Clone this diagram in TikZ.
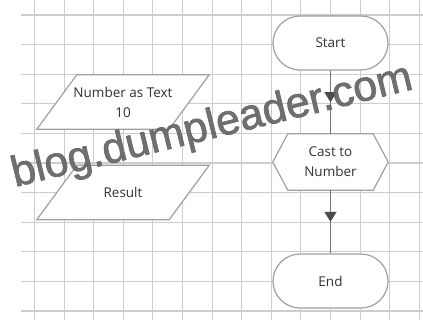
\documentclass[tikz,border=0pt]{standalone}
\usepackage{fontspec}
\setmainfont{Open Sans}
\newfontfamily\wmfont[BoldFont=Liberation Sans, BoldFeatures={FakeBold=1.6}]{Liberation Sans}
\usetikzlibrary{calc,arrows.meta,decorations.markings}
\definecolor{gridc}{RGB}{205,205,205}
\definecolor{shapec}{RGB}{160,160,160}
\definecolor{linec}{RGB}{115,115,115}
\definecolor{arrc}{RGB}{75,75,75}
\definecolor{txtc}{RGB}{50,50,50}
\definecolor{wmc}{RGB}{100,100,100}
\tikzset{
  gridline/.style={draw=gridc, line width=1.1pt},
  shapeline/.style={draw=shapec, line width=1.2pt, fill=white},
  label/.style={text=txtc, font=\fontsize{13.5}{20}\selectfont, align=center, inner sep=0pt},
  terminal/.style={label, shapeline, rectangle, rounded corners=27pt, minimum width=115pt, minimum height=54pt},
  boxarea/.style={label, rectangle, minimum width=115pt, minimum height=56pt},
  paraarea/.style={label, rectangle, minimum width=132pt, minimum height=54pt},
  flowline/.style={draw=linec, line width=1.4pt,
    postaction={decorate},
    decoration={markings, mark=at position 0.5 with {\arrow[arrc]{Triangle[width=12pt,length=10pt]}}}},
}
\begin{document}
\begin{tikzpicture}[x=1pt,y=-1pt]
\useasboundingbox (0,0) rectangle (423,322);
\fill[white] (0,0) rectangle (423,322);
% grid
\foreach \k in {0,...,13} {
  \draw[gridline] ({34.5+29.6*\k},0) -- ({34.5+29.6*\k},320);
}
\foreach \k in {0,...,10} {
  \draw[gridline] (21,{15+29.6*\k}) -- (423,{15+29.6*\k});
}
% parallelograms
\node[paraarea] (num) at (123,102) {};
\draw[shapeline] ($(num.south west)+(-20,0)$) -- ($(num.north west)+(20,0)$) -- ($(num.north east)+(20,0)$) -- ($(num.south east)+(-20,0)$) -- cycle;
\node[label] (numtxt) at (num) {Number as Text\\10};
\node[paraarea] (res) at (123,192.5) {};
\draw[shapeline] ($(res.south west)+(-20,0)$) -- ($(res.north west)+(20,0)$) -- ($(res.north east)+(20,0)$) -- ($(res.south east)+(-20,0)$) -- cycle;
\node[label] (restxt) at (res) {Result};
% flow
\node[terminal] (start) at (330.5,43) {Start};
\node[boxarea] (cast) at (330.5,162) {};
\draw[shapeline] (cast.west) -- ($(cast.north west)+(15,0)$) -- ($(cast.north east)+(-15,0)$) -- (cast.east) -- ($(cast.south east)+(-15,0)$) -- ($(cast.south west)+(15,0)$) -- cycle;
\node[label] (casttxt) at (cast) {Cast to\\Number};
\node[terminal] (end) at (330.5,281) {End};
\draw[flowline] (start.south) -- (cast.north);
\draw[flowline] (cast.south) -- (end.north);
% watermark
\node[anchor=base west, inner sep=0pt, rotate=13.8, text=wmc, opacity=0.92, font=\wmfont\bfseries\fontsize{43}{43}\selectfont] (wm) at (15,187) {blog.dumpleader.com};
\end{tikzpicture}
\end{document}
